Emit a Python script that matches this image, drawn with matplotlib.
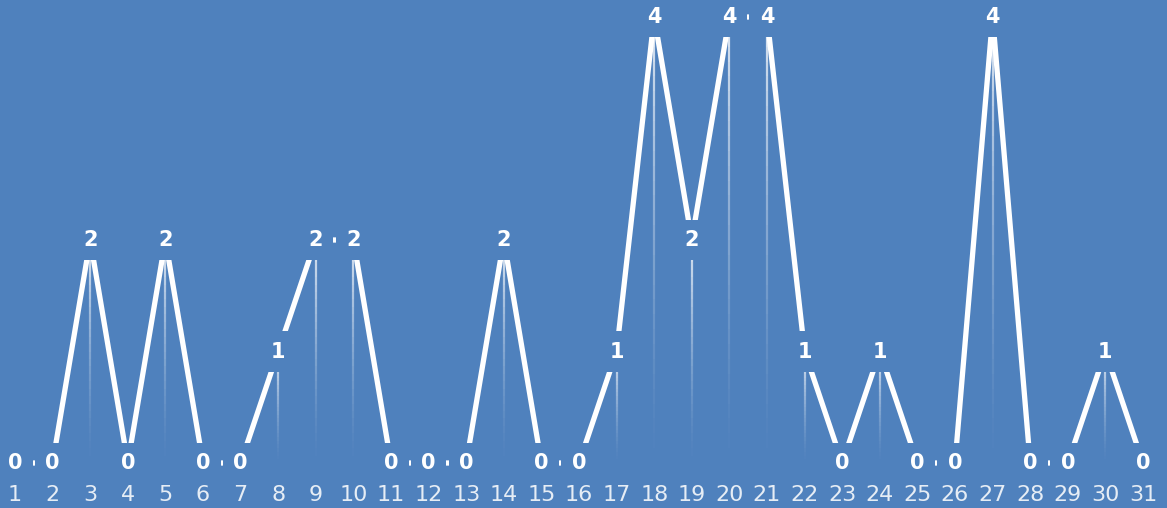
import numpy as np
import matplotlib.pyplot as plt
from matplotlib.collections import LineCollection

# donnees
jours = list(range(1, 32))
valeurs = [0, 0, 2, 0, 2, 0, 0, 1, 2, 2, 0, 0, 0, 2, 0, 0, 1, 4, 2, 4, 4, 1, 0, 1, 0, 0, 4, 0, 0, 1, 0]
etiquettes = [str(j) for j in jours]

fond = '#4F81BD'

fig = plt.figure(figsize=(11.67, 5.08), dpi=100)
fig.patch.set_facecolor(fond)
ax = fig.add_axes([0, 30 / 508, 1, 478 / 508])
ax.set_facecolor(fond)

# courbe principale
ax.plot(jours, valeurs, color='white', lw=3.8, zorder=2, solid_joinstyle='miter')

# lignes verticales qui s'estompent vers le bas
segs = []
alphas = []
n = 30
for x, v in zip(jours, valeurs):
    if v == 0:
        continue
    ys = np.linspace(v, 0, n + 1)
    for k in range(n):
        segs.append([(x, ys[k]), (x, ys[k + 1])])
        alphas.append(0.8 * (1 - k / n) ** 1.5)
cols = [(1, 1, 1, a) for a in alphas]
ax.add_collection(LineCollection(segs, colors=cols, linewidths=1.6, zorder=1))

# etiquettes des valeurs avec fond bleu qui coupe la courbe
for x, v in zip(jours, valeurs):
    ax.text(x, v, str(v), color='white', fontsize=15, fontweight='bold',
            ha='center', va='center', zorder=3,
            bbox=dict(boxstyle='square,pad=0.5', fc=fond, ec='none'))

ax.set_xlim(1 - 15 / 37.6, 1 + (1167 - 15) / 37.6)
ax.set_ylim((463 - 478) / 111.5, 463 / 111.5)
ax.set_xticks(jours)
ax.set_xticklabels(etiquettes)
ax.set_yticks([])
ax.tick_params(axis='x', length=0, pad=5, labelsize=16, labelcolor='#E6EDF5')
for s in ax.spines.values():
    s.set_visible(False)

fig.savefig('out.png', dpi=100, facecolor=fond)
